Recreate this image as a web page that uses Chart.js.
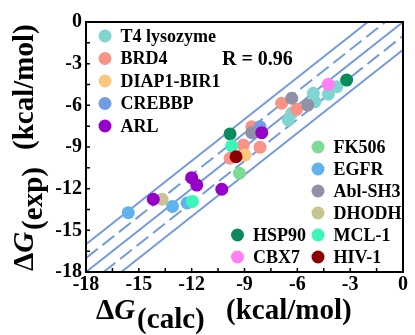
<!DOCTYPE html>
<html>
<head>
<meta charset="utf-8">
<script src="https://cdn.jsdelivr.net/npm/chart.js@4.4.1/dist/chart.umd.min.js"></script>
<style>
  html, body { margin: 0; padding: 0; background: #fff; }
  #wrap { width: 415px; height: 335px; }
</style>
</head>
<body>
<div id="wrap"><canvas id="chart" width="415" height="335"></canvas></div>
<script>
// binding free energies, kcal/mol
const proteins = [
  "T4 lysozyme", "BRD4", "DIAP1-BIR1", "CREBBP", "ARL",
  "FK506", "EGFR", "Abl-SH3", "DHODH", "HSP90", "MCL-1", "CBX7", "HIV-1",
];
const proteinColors = [
  "#7fd6d0", "#f89386", "#fbc87b", "#739be3", "#9600c8",
  "#7ddc94", "#62b2ee", "#9090a8", "#c6c48f", "#0b8a5c", "#3af7b9", "#ff80f4", "#8b0000",
];
const calcByProtein = [
  [-3.76, -4.24, -5.09, -5.0, -6.32, -6.51],
  [-6.89, -6.04, -8.59, -9.07, -8.12, -9.82],
  [-8.97],
  [-8.12],
  [-8.02, -12.0, -11.71, -10.29, -14.18],
  [-9.29],
  [-15.6, -13.09, -12.26],
  [-6.32, -5.41, -8.59],
  [-13.68],
  [-3.2, -9.82],
  [-9.73, -11.96],
  [-4.24],
  [-9.48],
];
const expByProtein = [
  [-4.66, -5.2, -5.13, -5.74, -6.57, -7.06],
  [-5.85, -6.29, -7.54, -8.86, -9.02, -9.81],
  [-9.58],
  [-7.54],
  [-7.97, -11.21, -11.74, -12.04, -12.76],
  [-10.89],
  [-13.73, -13.28, -13.03],
  [-5.49, -5.98, -7.97],
  [-12.76],
  [-4.18, -8.06],
  [-8.93, -12.92],
  [-4.49],
  [-9.7],
];
const axisMin = -18;
const axisMax = 0;
const tickStep = 1.5;
const labelStep = 3;
// y = x + offset guide lines
const guideOffsets = [2, 1, 0, -1, -2];
const dashedOffsets = [1, -1];
const correlationText = "R = 0.96";

const serif = "'Liberation Serif', 'Times New Roman', serif";
const guideColor = "#7399e2";

// where each legend entry sits (marker centre)
const legendSlots = [
  [105, 36], [105, 58.5], [105, 81], [105, 103.5], [105, 126],
  [318, 147], [318, 169], [318, 191], [318, 213],
  [237.5, 235], [318, 235], [237.5, 257], [318, 257],
];

const guideData = guideOffsets.map((k) => [
  { x: Math.max(axisMin, axisMin - k), y: Math.max(axisMin, axisMin + k) },
  { x: Math.min(axisMax, axisMax - k), y: Math.min(axisMax, axisMax + k) },
]);

const guideSets = guideOffsets.map((k, i) => ({
  label: "guide " + k,
  data: guideData[i],
  showLine: true,
  borderColor: guideColor,
  borderWidth: 2,
  borderDash: dashedOffsets.includes(k) ? [15, 6] : [],
  pointRadius: 0,
  order: 100,
}));

const arlIndex = proteins.indexOf("ARL");
const proteinSets = proteins.map((name, i) => ({
  label: name,
  data: calcByProtein[i].map((x, j) => ({ x, y: expByProtein[i][j] })),
  backgroundColor: proteinColors[i],
  pointRadius: 6.5,
  pointHoverRadius: 6.5,
  pointBorderWidth: 0,
  order: i === arlIndex ? 0 : proteins.length - i,
}));

// draws "ΔG_(sub) (kcal/mol)" piece by piece along the current baseline
const drawTitle = (ctx, sub, unitsAt) => {
  const big = "bold 29px " + serif;
  const ital = "italic bold 29px " + serif;
  let x = 0;
  ctx.font = big;
  ctx.fillText("\u0394", x, 0);
  x += ctx.measureText("\u0394").width;
  ctx.font = ital;
  ctx.fillText("G", x, 0);
  x += ctx.measureText("G").width + 2;
  ctx.font = big;
  ctx.fillText(sub, x, 9);
  ctx.fillText("(kcal/mol)", unitsAt, 0);
};

const decorations = {
  id: "decorations",
  afterDraw(chart) {
    const { ctx, chartArea: a, scales } = chart;
    ctx.save();

    // frame and inward ticks
    ctx.strokeStyle = "#000";
    ctx.lineWidth = 2;
    ctx.strokeRect(a.left, a.top, a.right - a.left, a.bottom - a.top);
    ctx.lineWidth = 1.5;
    ctx.beginPath();
    scales.x.ticks.forEach((t) => {
      const px = scales.x.getPixelForValue(t.value);
      ctx.moveTo(px, a.bottom);
      ctx.lineTo(px, a.bottom - 4);
    });
    scales.y.ticks.forEach((t) => {
      const py = scales.y.getPixelForValue(t.value);
      ctx.moveTo(a.left, py);
      ctx.lineTo(a.left + 4, py);
    });
    ctx.stroke();

    ctx.fillStyle = "#000";
    ctx.textBaseline = "alphabetic";
    ctx.textAlign = "left";

    // axis titles
    ctx.save();
    ctx.translate(96, 319);
    drawTitle(ctx, "(calc)", 130);
    ctx.restore();

    ctx.save();
    ctx.translate(33, 271);
    ctx.rotate(-Math.PI / 2);
    drawTitle(ctx, "(exp)", 121);
    ctx.restore();

    ctx.font = "bold 20px " + serif;
    ctx.fillText(correlationText, 222, 65);

    // legend
    ctx.font = "bold 18px " + serif;
    ctx.textBaseline = "middle";
    proteins.forEach((name, i) => {
      const [cx, cy] = legendSlots[i];
      ctx.fillStyle = proteinColors[i];
      ctx.beginPath();
      ctx.arc(cx, cy, 6.5, 0, Math.PI * 2);
      ctx.fill();
      ctx.fillStyle = "#000";
      ctx.fillText(name, cx + 15.5, cy + 1);
    });

    ctx.restore();
  },
};

const axisOptions = (fit, pad) => ({
  type: "linear",
  min: axisMin,
  max: axisMax,
  afterFit: fit,
  grid: { display: false, drawTicks: false },
  border: { display: false },
  ticks: {
    stepSize: tickStep,
    autoSkip: false,
    maxRotation: 0,
    minRotation: 0,
    padding: pad,
    color: "#000",
    font: { family: serif, size: 20, weight: "bold" },
    callback: (v) => (Math.abs(v % labelStep) < 1e-9 ? String(v === 0 ? 0 : v) : ""),
  },
});

new Chart(document.getElementById("chart"), {
  type: "scatter",
  data: { datasets: [...proteinSets, ...guideSets] },
  options: {
    responsive: false,
    animation: false,
    layout: { padding: { left: 0, top: 22, right: 12, bottom: 0 } },
    plugins: {
      legend: { display: false },
      tooltip: { enabled: false },
    },
    scales: {
      x: axisOptions((s) => { s.height = 63; }, 1),
      y: axisOptions((s) => { s.width = 86; }, 4),
    },
  },
  plugins: [decorations],
});
</script>
</body>
</html>
